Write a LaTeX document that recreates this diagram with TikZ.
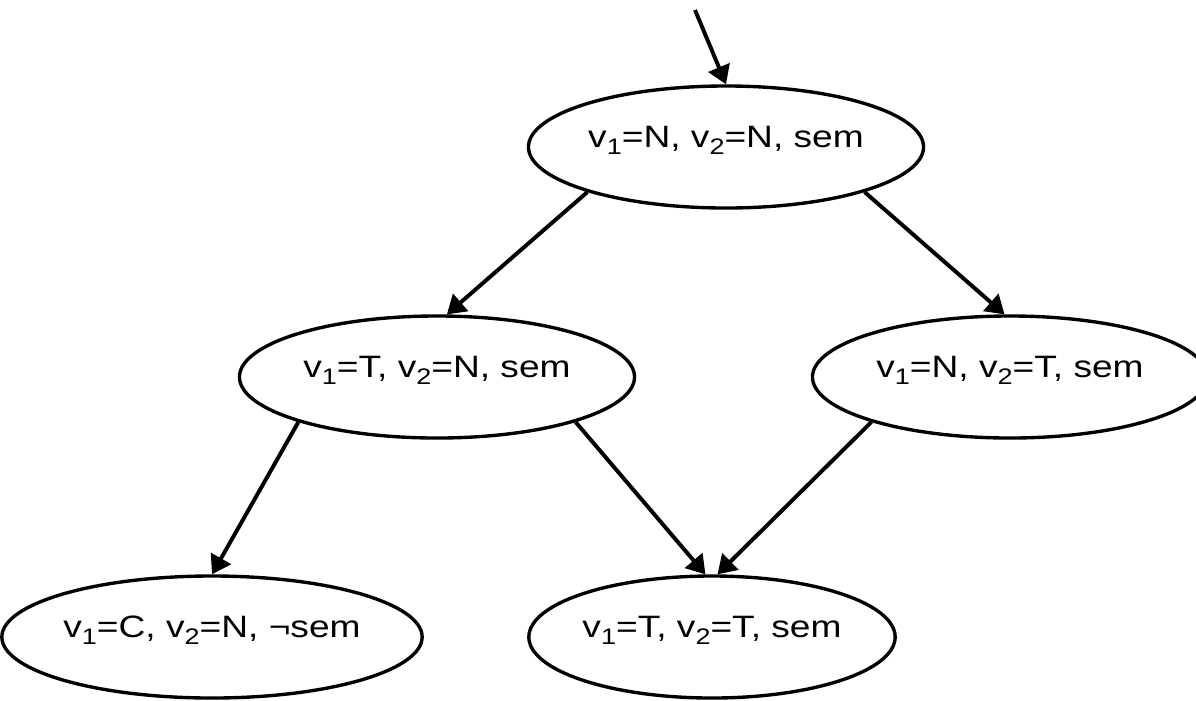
\documentclass[tikz,border=0pt]{standalone}
\usepackage{fontspec}
\setmainfont{Liberation Sans}[FakeStretch=1.2]
\usetikzlibrary{arrows.meta,shapes.geometric}
\newcommand{\idx}[1]{\raisebox{-5.5pt}{\fontsize{16}{16}\selectfont #1}}

\begin{document}
\begin{tikzpicture}[x=0.025cm,y=-0.025cm,>={Triangle[length=13pt,width=16pt]},
  state/.style={draw,ellipse,line width=2.4pt,inner sep=0pt,
    minimum width=9.875cm,minimum height=3.05cm,
    font=\fontsize{22}{26}\selectfont,text height=0.45em,text depth=0.45em},
  edge/.style={->,line width=2.8pt}]
  \useasboundingbox (0,0) rectangle (1196,700);

  \node[state] (nn) at (726,147) {v\idx{1}=N, v\idx{2}=N, sem};
  \node[state] (tn) at (437,377) {v\idx{1}=T, v\idx{2}=N, sem};
  \node[state] (nt) at (1010,377) {v\idx{1}=N, v\idx{2}=T, sem};
  \node[state] (cn) at (212,637) {v\idx{1}=C, v\idx{2}=N, \textlnot sem};
  \node[state,minimum width=9.125cm] (tt) at (712,637) {v\idx{1}=T, v\idx{2}=T, sem};

  \coordinate (init) at (695,10);
  \draw[edge] (init) -- (nn.north);
  \draw[edge] (nn.198) -- (tn.81);
  \draw[edge] (nn.342) -- (nt.95);
  \draw[edge] (tn.198) -- (cn.north);
  \draw[edge] (tn.342) -- (tt.96);
  \draw[edge] (nt.198) -- (tt.85);
\end{tikzpicture}
\end{document}
